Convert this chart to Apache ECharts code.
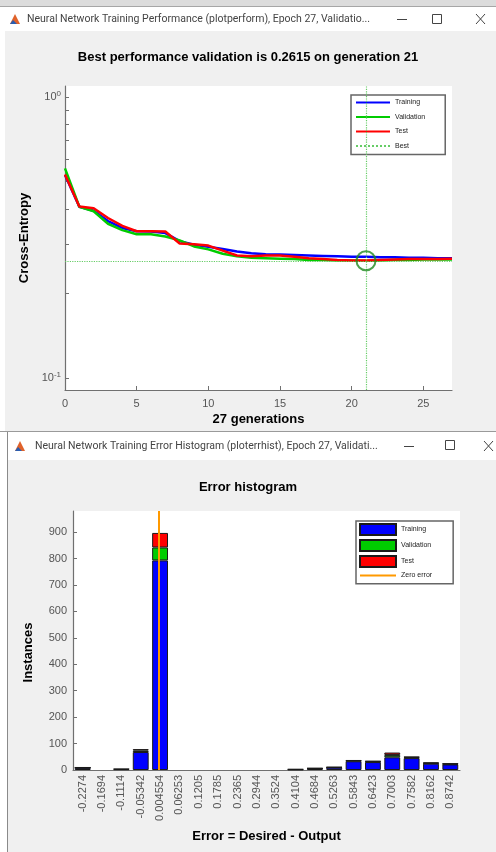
<!DOCTYPE html>
<html>
<head>
<meta charset="utf-8">
<script src="https://cdn.jsdelivr.net/npm/echarts@6/dist/echarts.min.js"></script>
<style>
  html, body { margin: 0; padding: 0; background: #fff; }
  #chart { width: 496px; height: 852px; }
</style>
</head>
<body>
<div id="chart"></div>
<script>
// training performance (plotperform)
const epochs = [0, 1, 2, 3, 4, 5, 6, 7, 8, 9, 10, 11, 12, 13, 14, 15, 16, 17, 18, 19, 20, 21, 22, 23, 24, 25, 26, 27];
const trainPerf = [0.528, 0.407, 0.394, 0.362, 0.342, 0.333, 0.332, 0.328, 0.307, 0.298, 0.293, 0.288, 0.282, 0.278, 0.276, 0.275, 0.274, 0.273, 0.272, 0.271, 0.270, 0.270, 0.269, 0.269, 0.268, 0.268, 0.267, 0.267];
const valPerf = [0.557, 0.407, 0.392, 0.354, 0.336, 0.325, 0.325, 0.319, 0.309, 0.294, 0.287, 0.277, 0.271, 0.268, 0.267, 0.266, 0.265, 0.263, 0.263, 0.262, 0.262, 0.2615, 0.262, 0.263, 0.263, 0.264, 0.264, 0.264];
const testPerf = [0.530, 0.408, 0.402, 0.371, 0.348, 0.333, 0.333, 0.332, 0.301, 0.299, 0.296, 0.284, 0.273, 0.271, 0.273, 0.273, 0.270, 0.267, 0.265, 0.263, 0.262, 0.262, 0.263, 0.264, 0.265, 0.265, 0.265, 0.266];
const bestEpoch = 21;
const bestPerf = 0.2615;
const perfMinorTicks = [0.1, 0.2, 0.3, 0.4, 0.5, 0.6, 0.7, 0.8, 0.9, 1];

// error histogram (ploterrhist)
const binLabels = ["-0.2274", "-0.1694", "-0.1114", "-0.05342", "0.004554", "0.06253", "0.1205", "0.1785", "0.2365", "0.2944",
  "0.3524", "0.4104", "0.4684", "0.5263", "0.5843", "0.6423", "0.7003", "0.7582", "0.8162", "0.8742"];
const histTrain = [8, 0, 3, 68, 793, 0, 0, 0, 0, 0, 0, 2, 5, 9, 33, 30, 48, 45, 24, 21];
const histVal = [1, 0, 0, 6, 49, 0, 0, 0, 0, 0, 0, 0, 1, 1, 2, 2, 9, 3, 2, 2];
const histTest = [1, 0, 1, 5, 55, 0, 0, 0, 0, 0, 0, 1, 1, 1, 2, 2, 9, 2, 2, 1];
const zeroError = 0;

const FONT = "Liberation Sans";
const labelColor = "#555";
const axisColor = "#707070";

const binFirst = parseFloat(binLabels[0]);
const binLast = parseFloat(binLabels[binLabels.length - 1]);
const binHalf = (binLast - binFirst) / (binLabels.length - 1) / 2;

// 空的柱子不画（MATLAB 里也看不到）
const hideEmpty = (arr) => arr.map((v) => (v === 0 ? null : v));

// 图例里只要线，不要点
const lineOnly = { opacity: 0 };

const chart = echarts.init(document.getElementById("chart"));

// 窗口外框
const chrome = [
  { type: "rect", shape: { x: 0, y: 0, width: 496, height: 6 }, style: { fill: "#dcdcdc" } },
  { type: "rect", shape: { x: 0, y: 6, width: 496, height: 1 }, style: { fill: "#a6a6a6" } },
  { type: "rect", shape: { x: 0, y: 7, width: 496, height: 24 }, style: { fill: "#fff" } },
  { type: "rect", shape: { x: 0, y: 31, width: 5, height: 400 }, style: { fill: "#fff" } },
  { type: "polygon", shape: { points: [[10, 24], [15, 14], [20, 24]] }, style: { fill: "#e0622a" } },
  { type: "polygon", shape: { points: [[10, 24], [13, 20], [17, 24]] }, style: { fill: "#2a5db0" } },
  { type: "text", style: { x: 27, y: 19, text: "Neural Network Training Performance (plotperform), Epoch 27, Validatio...", font: "10.5px Roboto", fill: "#444", verticalAlign: "middle" } },
  { type: "line", shape: { x1: 397, y1: 19.5, x2: 407, y2: 19.5 }, style: { stroke: "#444", lineWidth: 1 } },
  { type: "rect", shape: { x: 432.5, y: 14.5, width: 9, height: 9 }, style: { fill: "none", stroke: "#444", lineWidth: 1 } },
  { type: "line", shape: { x1: 476, y1: 14, x2: 485, y2: 24 }, style: { stroke: "#444", lineWidth: 1 } },
  { type: "line", shape: { x1: 485, y1: 14, x2: 476, y2: 24 }, style: { stroke: "#444", lineWidth: 1 } },

  { type: "rect", shape: { x: 0, y: 431, width: 496, height: 1 }, style: { fill: "#9a9a9a" } },
  { type: "rect", shape: { x: 0, y: 432, width: 496, height: 28 }, style: { fill: "#fff" } },
  { type: "rect", shape: { x: 0, y: 460, width: 7, height: 392 }, style: { fill: "#fff" } },
  { type: "rect", shape: { x: 7, y: 432, width: 1, height: 420 }, style: { fill: "#8a8a8a" } },
  { type: "polygon", shape: { points: [[15, 451], [20, 441], [25, 451]] }, style: { fill: "#e0622a" } },
  { type: "polygon", shape: { points: [[15, 451], [18, 447], [22, 451]] }, style: { fill: "#2a5db0" } },
  { type: "text", style: { x: 35, y: 446, text: "Neural Network Training Error Histogram (ploterrhist), Epoch 27, Validati...", font: "10.5px Roboto", fill: "#444", verticalAlign: "middle" } },
  { type: "line", shape: { x1: 404, y1: 446.5, x2: 414, y2: 446.5 }, style: { stroke: "#444", lineWidth: 1 } },
  { type: "rect", shape: { x: 445.5, y: 440.5, width: 9, height: 9 }, style: { fill: "none", stroke: "#444", lineWidth: 1 } },
  { type: "line", shape: { x1: 484, y1: 441, x2: 493, y2: 451 }, style: { stroke: "#444", lineWidth: 1 } },
  { type: "line", shape: { x1: 493, y1: 441, x2: 484, y2: 451 }, style: { stroke: "#444", lineWidth: 1 } }
];

const axisNameStyle = { fontFamily: FONT, fontSize: 13, fontWeight: "bold", color: "#000" };
const tickLabelStyle = { fontFamily: FONT, fontSize: 11, color: labelColor };

const option = {
  backgroundColor: "#f0f0f0",
  animation: false,
  graphic: { elements: chrome },
  title: [
    {
      text: "Best performance validation is 0.2615 on generation 21",
      left: "center",
      top: 51,
      padding: [0, 0, 0, 22],
      textStyle: { fontFamily: FONT, fontSize: 13, fontWeight: "bold", color: "#000" }
    },
    {
      text: "Error histogram",
      left: "center",
      top: 481,
      padding: [0, 0, 0, 36],
      textStyle: { fontFamily: FONT, fontSize: 13, fontWeight: "bold", color: "#000" }
    }
  ],
  legend: [
    {
      data: [
        { name: "Training", itemStyle: lineOnly },
        { name: "Validation", itemStyle: lineOnly },
        { name: "Test", itemStyle: lineOnly },
        { name: "Best", itemStyle: lineOnly }
      ],
      orient: "vertical",
      left: 351,
      top: 95,
      itemWidth: 34,
      itemHeight: 8,
      itemGap: 7.5,
      padding: [4, 20, 5, 4],
      backgroundColor: "#fff",
      borderColor: "#666",
      borderWidth: 1.5,
      selectedMode: false,
      textStyle: { fontFamily: FONT, fontSize: 7, color: "#222" }
    },
    {
      data: [
        { name: "Training ", icon: "rect" },
        { name: "Validation ", icon: "rect" },
        { name: "Test ", icon: "rect" },
        { name: "Zero error", itemStyle: lineOnly }
      ],
      orient: "vertical",
      left: 356,
      top: 521,
      itemWidth: 36,
      itemHeight: 11,
      itemGap: 3,
      padding: [2, 20, 4, 3],
      backgroundColor: "#fff",
      borderColor: "#666",
      borderWidth: 1.5,
      selectedMode: false,
      textStyle: { fontFamily: FONT, fontSize: 7, color: "#222" }
    }
  ],
  grid: [
    { left: 65, top: 86, width: 387, height: 304, show: true, backgroundColor: "#fff", borderWidth: 0, outerBoundsMode: "none" },
    { left: 73, top: 511, width: 387, height: 259, show: true, backgroundColor: "#fff", borderWidth: 0, outerBoundsMode: "none" }
  ],
  xAxis: [
    {
      type: "value",
      gridIndex: 0,
      min: 0,
      max: 27,
      interval: 5,
      name: "27 generations",
      nameLocation: "middle",
      nameGap: 23,
      nameTextStyle: axisNameStyle,
      axisLine: { onZero: false, lineStyle: { color: axisColor, width: 1.2 } },
      axisTick: { inside: true, length: 4, lineStyle: { color: axisColor } },
      axisLabel: { ...tickLabelStyle, margin: 8, showMaxLabel: false },
      splitLine: { show: false }
    },
    {
      type: "category",
      gridIndex: 1,
      data: binLabels,
      name: "Error = Desired - Output",
      nameLocation: "middle",
      nameGap: 60,
      nameTextStyle: axisNameStyle,
      axisLine: { onZero: false, lineStyle: { color: axisColor, width: 1.2 } },
      axisTick: { inside: true, length: 3, alignWithLabel: true, interval: 0, lineStyle: { color: axisColor } },
      axisLabel: { ...tickLabelStyle, rotate: 90, interval: 0, margin: 5 },
      splitLine: { show: false }
    },
    {
      type: "value",
      gridIndex: 1,
      show: false,
      min: binFirst - binHalf,
      max: binLast + binHalf,
      splitLine: { show: false }
    }
  ],
  yAxis: [
    {
      type: "log",
      gridIndex: 0,
      logBase: 10,
      min: 0.0907,
      max: 1.094,
      name: "Cross-Entropy",
      nameLocation: "middle",
      nameGap: 27,
      nameTextStyle: axisNameStyle,
      axisLine: { onZero: false, lineStyle: { color: axisColor, width: 1.2 } },
      axisTick: { inside: true, length: 4, customValues: perfMinorTicks, lineStyle: { color: axisColor } },
      axisLabel: {
        margin: 4,
        formatter: (v) => {
          if (Math.abs(v - 1) < 1e-6) return "{b|10}{s|0}";
          if (Math.abs(v - 0.1) < 1e-7) return "{b|10}{s|-1}";
          return "";
        },
        rich: {
          b: { fontFamily: FONT, fontSize: 11, color: labelColor },
          s: { fontFamily: FONT, fontSize: 8, color: labelColor, padding: [0, 0, 7, 0] }
        }
      },
      splitLine: { show: false }
    },
    {
      type: "value",
      gridIndex: 1,
      min: 0,
      max: 980,
      interval: 100,
      name: "Instances",
      nameLocation: "middle",
      nameGap: 38,
      nameTextStyle: { ...axisNameStyle, padding: [0, 24, 0, 0] },
      axisLine: { onZero: false, lineStyle: { color: axisColor, width: 1.2 } },
      axisTick: { inside: true, length: 4, lineStyle: { color: axisColor } },
      axisLabel: { ...tickLabelStyle, margin: 6, showMaxLabel: false },
      splitLine: { show: false }
    }
  ],
  series: [
    {
      name: "Training",
      type: "line",
      xAxisIndex: 0,
      yAxisIndex: 0,
      data: epochs.map((e, i) => [e, trainPerf[i]]),
      symbol: "none",
      lineStyle: { color: "#0000ff", width: 2.5 },
      itemStyle: { color: "#0000ff" }
    },
    {
      name: "Validation",
      type: "line",
      xAxisIndex: 0,
      yAxisIndex: 0,
      data: epochs.map((e, i) => [e, valPerf[i]]),
      symbol: "none",
      lineStyle: { color: "#00cc00", width: 2.5 },
      itemStyle: { color: "#00cc00" }
    },
    {
      name: "Test",
      type: "line",
      xAxisIndex: 0,
      yAxisIndex: 0,
      data: epochs.map((e, i) => [e, testPerf[i]]),
      symbol: "none",
      lineStyle: { color: "#ff0000", width: 2.5 },
      itemStyle: { color: "#ff0000" }
    },
    {
      name: "Best",
      type: "line",
      xAxisIndex: 0,
      yAxisIndex: 0,
      data: [[bestEpoch, bestPerf]],
      symbol: "none",
      lineStyle: { color: "#66cc66", width: 1, type: "dotted" },
      itemStyle: { color: "#66cc66" },
      markLine: {
        silent: true,
        symbol: "none",
        label: { show: false },
        lineStyle: { color: "#66cc66", width: 1.2, type: "dotted" },
        data: [{ xAxis: bestEpoch }, { yAxis: bestPerf }]
      },
      z: 1
    },
    {
      name: "bestMarker",
      type: "scatter",
      xAxisIndex: 0,
      yAxisIndex: 0,
      data: [[bestEpoch, bestPerf]],
      symbol: "circle",
      symbolSize: 19,
      itemStyle: { color: "rgba(0,0,0,0)", borderColor: "#1f8a1f", borderWidth: 2 },
      z: 5
    },
    {
      name: "Training ",
      type: "bar",
      stack: "err",
      xAxisIndex: 1,
      yAxisIndex: 1,
      data: hideEmpty(histTrain),
      barCategoryGap: "18%",
      itemStyle: { color: "#0000ff", borderColor: "#1a1a1a", borderWidth: 1 }
    },
    {
      name: "Validation ",
      type: "bar",
      stack: "err",
      xAxisIndex: 1,
      yAxisIndex: 1,
      data: hideEmpty(histVal),
      itemStyle: { color: "#00cc00", borderColor: "#1a1a1a", borderWidth: 1 }
    },
    {
      name: "Test ",
      type: "bar",
      stack: "err",
      xAxisIndex: 1,
      yAxisIndex: 1,
      data: hideEmpty(histTest),
      itemStyle: { color: "#ff0000", borderColor: "#1a1a1a", borderWidth: 1 }
    },
    {
      name: "Zero error",
      type: "line",
      xAxisIndex: 2,
      yAxisIndex: 1,
      data: [],
      symbol: "none",
      lineStyle: { color: "#ff9900", width: 2 },
      itemStyle: { color: "#ff9900" },
      markLine: {
        silent: true,
        symbol: "none",
        label: { show: false },
        lineStyle: { color: "#ff9900", width: 2, type: "solid" },
        data: [{ xAxis: zeroError }]
      },
      z: 5
    }
  ]
};

chart.setOption(option);
window.addEventListener("resize", () => chart.resize());
</script>
</body>
</html>
